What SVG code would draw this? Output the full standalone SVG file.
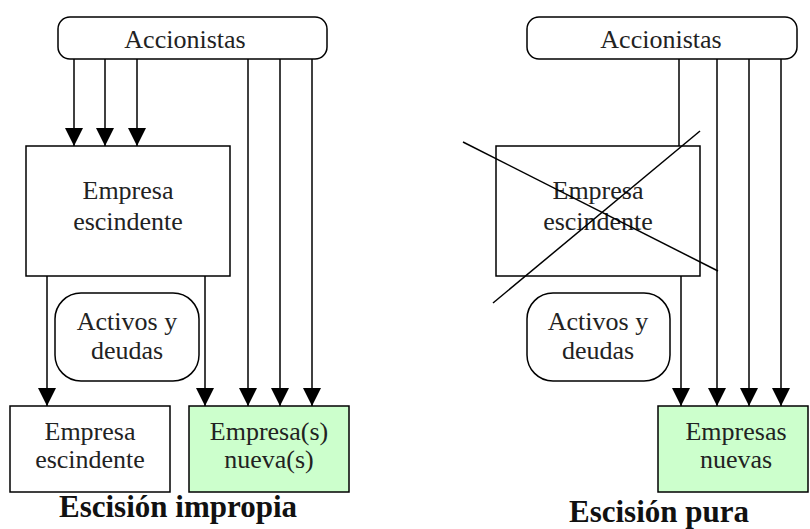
<svg xmlns="http://www.w3.org/2000/svg" width="810" height="529" viewBox="0 0 810 529">
<defs>
<marker id="ah" markerUnits="userSpaceOnUse" markerWidth="18" markerHeight="18" viewBox="0 0 16 16" refX="16" refY="8" orient="auto">
<path d="M0,0 L16,8 L0,16 Z" fill="#000"/>
</marker>
<style>
.box{fill:#fff;stroke:#000;stroke-width:1.5}
.green{fill:#CCFFCC;stroke:#000;stroke-width:1.5}
.t{font-family:'Liberation Serif','DejaVu Serif',serif;font-size:26px;font-weight:normal;font-style:normal;fill:#222;text-anchor:middle}
.title{font-family:'Liberation Serif','DejaVu Serif',serif;font-size:31px;font-weight:bold;fill:#111;text-anchor:middle}
.c{stroke:#000;stroke-width:1.5;fill:none}
.a{stroke:#000;stroke-width:1.5;fill:none;marker-end:url(#ah)}
</style>
</defs>
<rect width="810" height="529" fill="#fff"/>
<g id="connectors">
<line class="a" x1="74" y1="59" x2="74" y2="146"/>
<line class="a" x1="105" y1="59" x2="105" y2="146"/>
<line class="a" x1="137" y1="59" x2="137" y2="146"/>
<line class="a" x1="248" y1="59" x2="248" y2="406"/>
<line class="a" x1="280" y1="59" x2="280" y2="406"/>
<line class="a" x1="312" y1="59" x2="312" y2="406"/>
<line class="a" x1="47" y1="276" x2="47" y2="406"/>
<line class="a" x1="205" y1="276" x2="205" y2="406"/>
<line class="c" x1="679" y1="59" x2="679" y2="146"/>
<line class="a" x1="681" y1="276" x2="681" y2="406"/>
<line class="a" x1="717" y1="59" x2="717" y2="406"/>
<line class="a" x1="749" y1="59" x2="749" y2="406"/>
<line class="a" x1="781" y1="59" x2="781" y2="406"/>
</g>
<g id="accionistas-left">
<rect class="box" x="58" y="17" width="269" height="42" rx="12"/>
<text class="t" x="185" y="48">Accionistas</text>
</g>
<g id="empresa-escindente-left">
<rect class="box" x="26" y="146" width="204" height="130"/>
<text class="t" x="128" y="199">Empresa</text>
<text class="t" x="128" y="230">escindente</text>
</g>
<g id="activos-left">
<rect class="box" x="55" y="293" width="144" height="88" rx="26"/>
<text class="t" x="127" y="330">Activos y</text>
<text class="t" x="127" y="359">deudas</text>
</g>
<g id="empresa-escindente-bottom">
<rect class="box" x="10" y="406" width="160" height="86"/>
<text class="t" x="90" y="440">Empresa</text>
<text class="t" x="90" y="468">escindente</text>
</g>
<g id="empresas-nuevas-left">
<rect class="green" x="189" y="406" width="160" height="86"/>
<text class="t" x="269" y="440">Empresa(s)</text>
<text class="t" x="269" y="468">nueva(s)</text>
</g>
<g id="title-left">
<text class="title" x="178" y="517">Escisión impropia</text>
</g>
<g id="accionistas-right">
<rect class="box" x="527" y="17" width="270" height="42" rx="12"/>
<text class="t" x="661" y="48">Accionistas</text>
</g>
<g id="empresa-escindente-right">
<rect class="box" x="496" y="146" width="204" height="130"/>
<text class="t" x="598" y="199">Empresa</text>
<text class="t" x="598" y="230">escindente</text>
<line class="c" x1="463" y1="142" x2="718" y2="271"/>
<line class="c" x1="700" y1="131" x2="493" y2="303"/>
</g>
<g id="activos-right">
<rect class="box" x="527" y="293" width="143" height="88" rx="26"/>
<text class="t" x="598" y="330">Activos y</text>
<text class="t" x="598" y="359">deudas</text>
</g>
<g id="empresas-nuevas-right">
<rect class="green" x="658" y="406" width="150" height="86"/>
<text class="t" x="736" y="440">Empresas</text>
<text class="t" x="736" y="468">nuevas</text>
</g>
<g id="title-right">
<text class="title" x="659" y="522">Escisión pura</text>
</g>
</svg>
